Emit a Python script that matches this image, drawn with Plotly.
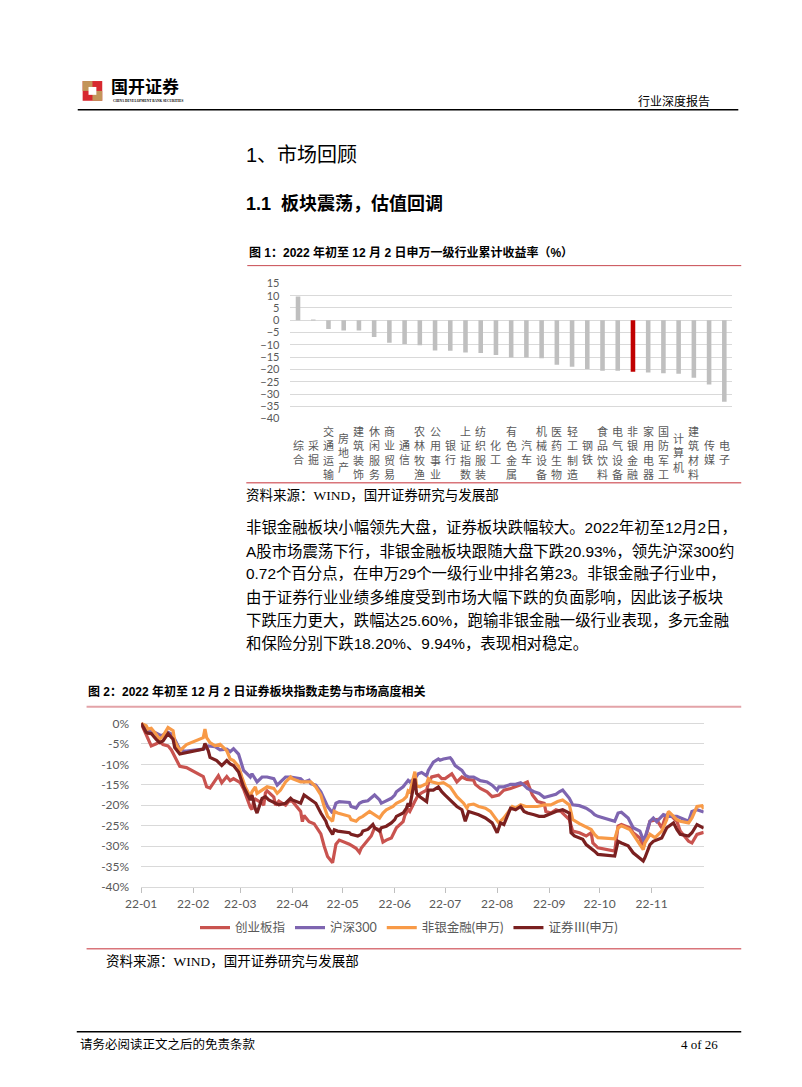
import plotly.graph_objects as go

W, H = 802, 1087
def px(x): return x / W
def py(y): return 1 - y / H

CJK = "Noto Sans CJK SC"
SANS = "Liberation Sans, Noto Sans CJK SC"
SERIF = "Liberation Serif, Noto Sans CJK SC"
NUM = "Lato, Noto Sans CJK SC"

# ---------------- Figure 1 data ----------------
industries = ["综合","采掘","交通运输","房地产","建筑装饰","休闲服务","商业贸易","通信","农林牧渔","公用事业",
              "银行","上证指数","纺织服装","化工","有色金属","汽车","机械设备","医药生物","轻工制造","钢铁",
              "食品饮料","电气设备","非银金融","家用电器","国防军工","计算机","建筑材料","传媒","电子"]
returns = [9.7, 0.2, -3.6, -4.2, -4.2, -6.8, -9.1, -9.6, -10.2, -12.3,
           -12.4, -13.1, -13.3, -14.1, -15.1, -15.1, -15.4, -18.1, -18.9, -19.8,
           -20.5, -20.5, -20.93, -21.2, -21.5, -21.8, -23.4, -26.1, -33.1]
highlight = "非银金融"
bar_yticks = list(range(-40, 20, 5))

# ---------------- Figure 2 data ----------------
cyb_dates = ["2022-01-01","2022-01-04","2022-01-07","2022-01-10","2022-01-12","2022-01-14","2022-01-17","2022-01-19","2022-01-21","2022-01-24",
             "2022-01-28","2022-02-07","2022-02-09","2022-02-11","2022-02-14","2022-02-16","2022-02-18","2022-02-21","2022-02-23","2022-02-25",
             "2022-03-01","2022-03-03","2022-03-07","2022-03-08","2022-03-09","2022-03-10","2022-03-14","2022-03-15","2022-03-16","2022-03-17",
             "2022-03-21","2022-03-22","2022-03-24","2022-03-28","2022-03-30","2022-04-01","2022-04-06","2022-04-07","2022-04-08","2022-04-11",
             "2022-04-14","2022-04-18","2022-04-20","2022-04-21","2022-04-22","2022-04-25","2022-04-26","2022-04-27","2022-04-29","2022-05-05",
             "2022-05-09","2022-05-11","2022-05-12","2022-05-16","2022-05-18","2022-05-20","2022-05-23","2022-05-25","2022-05-27","2022-05-30",
             "2022-06-02","2022-06-06","2022-06-07","2022-06-09","2022-06-10","2022-06-13","2022-06-15","2022-06-17","2022-06-20","2022-06-21",
             "2022-06-23","2022-06-27","2022-06-29","2022-07-01","2022-07-05","2022-07-08","2022-07-11","2022-07-14","2022-07-18","2022-07-19",
             "2022-07-22","2022-07-26","2022-07-29","2022-08-02","2022-08-05","2022-08-09","2022-08-12","2022-08-15","2022-08-17","2022-08-19",
             "2022-08-22","2022-08-25","2022-08-29","2022-08-30","2022-09-02","2022-09-05","2022-09-08","2022-09-09","2022-09-13","2022-09-15",
             "2022-09-19","2022-09-23","2022-09-26","2022-09-27","2022-09-30","2022-10-10","2022-10-12","2022-10-14","2022-10-19","2022-10-21",
             "2022-10-25","2022-10-27","2022-10-28","2022-10-31","2022-11-04","2022-11-07","2022-11-09","2022-11-11","2022-11-16","2022-11-18",
             "2022-11-23","2022-11-25","2022-11-28","2022-12-02"]
cyb_vals = [0,-3.0,-5.5,-5.0,-4.5,-5.2,-5.5,-6.5,-8.0,-10.5,
            -10.8,-13.0,-15.5,-15.8,-14.0,-12.8,-14.5,-13.0,-14.0,-13.5,
            -14.5,-16.0,-20.5,-21.0,-19.0,-18.5,-19.5,-20.0,-17.0,-16.5,
            -18.0,-20.0,-19.0,-20.0,-19.0,-19.0,-21.5,-24.0,-22.5,-24.0,
            -24.5,-27.0,-30.0,-31.5,-32.5,-34.0,-31.5,-29.5,-28.5,-29.5,
            -30.5,-31.5,-30.5,-28.5,-27.5,-25.5,-26.0,-29.0,-28.5,-28.0,
            -25.5,-24.0,-22.5,-21.0,-21.5,-19.0,-17.5,-17.0,-16.3,-14.7,
            -13.1,-12.7,-13.5,-13.5,-12.3,-14.3,-13.1,-13.7,-13.9,-14.9,
            -15.9,-16.7,-17.9,-17.5,-16.3,-15.9,-15.5,-14.9,-14.7,-14.3,
            -17.5,-19.1,-19.5,-21.5,-21.9,-21.1,-21.5,-21.9,-23.5,-26.3,
            -26.7,-27.5,-26.7,-29.2,-30.4,-31.2,-25.1,-24.7,-25.5,-26.7,
            -28.0,-30.4,-28.4,-23.9,-23.5,-25.5,-23.1,-21.9,-23.9,-26.3,
            -28.8,-29.2,-27.1,-26.6]

hs_dates = ["2022-01-01","2022-01-04","2022-01-05","2022-01-07","2022-01-10","2022-01-13","2022-01-17","2022-01-19","2022-01-21","2022-01-24",
            "2022-01-26","2022-01-28","2022-02-07","2022-02-10","2022-02-14","2022-02-17","2022-02-21","2022-02-23","2022-02-25","2022-02-28",
            "2022-03-03","2022-03-07","2022-03-08","2022-03-10","2022-03-11","2022-03-14","2022-03-17","2022-03-21","2022-03-23","2022-03-25",
            "2022-03-28","2022-03-31","2022-04-06","2022-04-08","2022-04-11","2022-04-12","2022-04-15","2022-04-18","2022-04-20","2022-04-22",
            "2022-04-25","2022-04-26","2022-04-27","2022-04-29","2022-05-05","2022-05-06","2022-05-09","2022-05-11","2022-05-13","2022-05-16",
            "2022-05-18","2022-05-20","2022-05-23","2022-05-24","2022-05-26","2022-05-30","2022-06-01","2022-06-02","2022-06-06","2022-06-07",
            "2022-06-09","2022-06-10","2022-06-13","2022-06-15","2022-06-17","2022-06-20","2022-06-21","2022-06-24","2022-06-27","2022-06-28",
            "2022-06-30","2022-07-04","2022-07-05","2022-07-07","2022-07-11","2022-07-13","2022-07-15","2022-07-18","2022-07-20","2022-07-22",
            "2022-07-26","2022-07-29","2022-08-01","2022-08-02","2022-08-05","2022-08-09","2022-08-12","2022-08-15","2022-08-17","2022-08-19",
            "2022-08-23","2022-08-26","2022-08-29","2022-09-01","2022-09-05","2022-09-07","2022-09-09","2022-09-13","2022-09-15","2022-09-19",
            "2022-09-21","2022-09-23","2022-09-26","2022-09-28","2022-09-30","2022-10-10","2022-10-12","2022-10-14","2022-10-18","2022-10-21",
            "2022-10-25","2022-10-27","2022-10-28","2022-10-31","2022-11-02","2022-11-04","2022-11-08","2022-11-11","2022-11-16","2022-11-18",
            "2022-11-23","2022-11-25","2022-11-28","2022-12-02"]
hs_vals = [0,-1.5,-2.0,-1.8,-2.5,-3.0,-2.2,-2.6,-3.9,-6.3,
           -6.7,-6.8,-6.3,-5.5,-5.7,-6.5,-6.3,-6.9,-6.2,-7.5,
           -11.5,-13.1,-12.3,-13.9,-14.3,-13.1,-13.1,-13.5,-15.1,-14.3,
           -13.1,-13.1,-13.5,-14.3,-13.9,-14.7,-15.1,-16.7,-18.7,-20.3,
           -21.9,-20.5,-19.5,-19.1,-19.3,-20.3,-20.7,-19.5,-19.1,-18.9,
           -18.3,-17.5,-18.7,-19.5,-19.1,-18.3,-17.5,-16.7,-15.5,-14.9,
           -13.9,-14.3,-13.5,-12.3,-12.0,-12.8,-11.5,-9.5,-8.7,-9.0,
           -8.7,-8.4,-8.9,-10.3,-11.5,-12.7,-13.1,-13.1,-13.5,-14.0,
           -14.3,-15.1,-16.3,-15.5,-15.5,-14.9,-14.9,-14.5,-15.1,-15.9,
           -16.7,-17.1,-18.1,-17.7,-17.3,-16.7,-16.3,-18.3,-19.9,-20.1,
           -20.3,-20.7,-21.5,-22.3,-22.7,-23.9,-21.9,-21.7,-23.1,-25.5,
           -26.3,-28.4,-28.0,-23.9,-23.1,-24.0,-22.3,-22.7,-22.7,-23.1,
           -23.9,-21.5,-21.1,-21.65]

fy_dates = ["2022-01-01","2022-01-04","2022-01-05","2022-01-07","2022-01-10","2022-01-12","2022-01-14","2022-01-17","2022-01-20","2022-01-21",
            "2022-01-24","2022-01-28","2022-02-07","2022-02-08","2022-02-09","2022-02-11","2022-02-14","2022-02-17","2022-02-21","2022-02-23",
            "2022-02-25","2022-02-28","2022-03-02","2022-03-04","2022-03-07","2022-03-08","2022-03-10","2022-03-11","2022-03-14","2022-03-17",
            "2022-03-21","2022-03-23","2022-03-25","2022-03-28","2022-03-31","2022-04-01","2022-04-06","2022-04-08","2022-04-12","2022-04-15",
            "2022-04-18","2022-04-20","2022-04-22","2022-04-25","2022-04-26","2022-04-28","2022-05-05","2022-05-06","2022-05-09","2022-05-11",
            "2022-05-13","2022-05-17","2022-05-20","2022-05-23","2022-05-25","2022-05-27","2022-05-31","2022-06-02","2022-06-06","2022-06-08",
            "2022-06-09","2022-06-10","2022-06-13","2022-06-14","2022-06-16","2022-06-20","2022-06-21","2022-06-23","2022-06-27","2022-06-30",
            "2022-07-04","2022-07-08","2022-07-12","2022-07-14","2022-07-15","2022-07-18","2022-07-21","2022-07-25","2022-07-28","2022-08-01",
            "2022-08-02","2022-08-05","2022-08-10","2022-08-12","2022-08-15","2022-08-18","2022-08-22","2022-08-25","2022-08-29","2022-09-02",
            "2022-09-06","2022-09-09","2022-09-13","2022-09-15","2022-09-19","2022-09-22","2022-09-26","2022-09-28","2022-09-30","2022-10-10",
            "2022-10-12","2022-10-14","2022-10-19","2022-10-21","2022-10-25","2022-10-27","2022-10-28","2022-10-31","2022-11-03","2022-11-07",
            "2022-11-10","2022-11-11","2022-11-16","2022-11-18","2022-11-23","2022-11-25","2022-11-28","2022-12-01","2022-12-02"]
fy_vals = [0,-0.6,-1.4,-1.2,-2.7,-3.9,-3.1,-1.0,-1.8,-4.3,
           -6.7,-5.2,-3.5,-1.4,-3.5,-4.7,-5.5,-5.1,-6.7,-8.7,
           -9.1,-10.5,-13.1,-15.5,-17.9,-16.7,-15.5,-17.1,-16.3,-15.5,
           -15.9,-17.1,-16.3,-14.3,-13.1,-13.5,-14.3,-14.3,-14.3,-15.5,
           -17.5,-20.3,-22.7,-23.9,-21.5,-21.9,-22.7,-23.5,-23.9,-23.1,
           -22.7,-21.5,-22.3,-23.1,-21.9,-21.1,-20.3,-19.5,-18.7,-17.9,
           -16.5,-16.8,-11.8,-15.3,-15.5,-14.7,-13.5,-14.3,-14.7,-14.5,
           -15.5,-17.9,-19.5,-20.7,-19.9,-19.7,-20.3,-20.7,-21.5,-23.9,
           -24.3,-23.1,-20.3,-20.7,-19.9,-20.3,-20.3,-20.3,-19.9,-19.9,
           -19.1,-18.7,-19.9,-23.5,-24.5,-25.1,-25.9,-27.1,-27.9,-28.2,
           -25.5,-25.0,-25.9,-27.1,-29.6,-30.8,-29.2,-27.1,-27.9,-26.3,
           -23.5,-21.5,-23.5,-23.9,-24.3,-23.1,-20.3,-20.1,-20.93]

zq_dates = ["2022-01-01","2022-01-04","2022-01-05","2022-01-07","2022-01-10","2022-01-12","2022-01-14","2022-01-17","2022-01-20","2022-01-21",
            "2022-01-24","2022-01-28","2022-02-07","2022-02-08","2022-02-10","2022-02-11","2022-02-15","2022-02-18","2022-02-21","2022-02-23",
            "2022-02-25","2022-02-28","2022-03-03","2022-03-07","2022-03-08","2022-03-10","2022-03-11","2022-03-14","2022-03-16","2022-03-18",
            "2022-03-22","2022-03-24","2022-03-28","2022-03-31","2022-04-01","2022-04-06","2022-04-08","2022-04-12","2022-04-15","2022-04-18",
            "2022-04-21","2022-04-22","2022-04-25","2022-04-26","2022-04-28","2022-05-05","2022-05-06","2022-05-10","2022-05-12","2022-05-13",
            "2022-05-16","2022-05-19","2022-05-20","2022-05-23","2022-05-24","2022-05-27","2022-05-30","2022-06-01","2022-06-02","2022-06-06",
            "2022-06-08","2022-06-09","2022-06-10","2022-06-13","2022-06-14","2022-06-16","2022-06-20","2022-06-21","2022-06-24","2022-06-27",
            "2022-06-29","2022-07-01","2022-07-05","2022-07-08","2022-07-11","2022-07-13","2022-07-15","2022-07-18","2022-07-21","2022-07-25",
            "2022-07-29","2022-08-01","2022-08-03","2022-08-05","2022-08-09","2022-08-12","2022-08-15","2022-08-17","2022-08-19","2022-08-23",
            "2022-08-26","2022-08-29","2022-09-02","2022-09-05","2022-09-09","2022-09-13","2022-09-14","2022-09-16","2022-09-21","2022-09-23",
            "2022-09-28","2022-09-30","2022-10-10","2022-10-12","2022-10-14","2022-10-18","2022-10-21","2022-10-25","2022-10-27","2022-10-28",
            "2022-10-31","2022-11-02","2022-11-07","2022-11-10","2022-11-14","2022-11-16","2022-11-18","2022-11-23","2022-11-25","2022-11-28",
            "2022-12-02"]
zq_vals = [0,-2.2,-2.4,-2.5,-3.9,-4.7,-4.3,-2.5,-3.9,-5.9,
           -7.5,-7.1,-6.3,-4.9,-6.7,-8.3,-9.1,-10.3,-9.1,-9.9,
           -10.3,-11.9,-15.5,-18.7,-17.5,-20.9,-21.9,-18.3,-17.9,-18.7,
           -19.5,-19.9,-19.5,-18.3,-18.7,-19.5,-17.5,-18.7,-19.5,-21.9,
           -23.9,-25.1,-27.1,-26.0,-26.3,-26.7,-27.1,-27.5,-27.1,-26.3,
           -25.9,-24.7,-25.5,-26.3,-25.5,-25.1,-24.3,-23.5,-22.7,-21.9,
           -20.7,-19.5,-20.3,-13.5,-17.1,-17.9,-19.1,-16.3,-16.3,-15.5,
           -16.7,-17.5,-19.1,-20.3,-21.1,-23.9,-21.5,-21.9,-22.3,-23.1,
           -24.3,-26.7,-24.3,-24.7,-20.7,-21.1,-20.3,-21.5,-21.9,-22.3,
           -22.7,-22.7,-21.9,-21.5,-21.1,-21.9,-26.7,-27.5,-28.3,-29.6,
           -31.2,-32.0,-32.4,-28.8,-29.2,-29.9,-31.6,-32.8,-33.6,-32.8,
           -29.6,-28.8,-28.0,-25.5,-24.3,-25.9,-27.1,-27.5,-26.7,-24.7,
           -25.6]

series_names = ["创业板指", "沪深300", "非银金融(申万)", "证券Ⅲ(申万)"]
series_colors = ["#c9534f", "#7e65b0", "#f89a47", "#7a2020"]
line_yticks = list(range(-40, 5, 5))
line_yticktext = [f"{v}%" for v in line_yticks]
month_ticks = ["2022-%02d-01" % m for m in range(1, 12)]
month_labels = ["22-%02d" % m for m in range(1, 12)]

fig = go.Figure()

# Figure 1 bars
bar_colors = ["#c00000" if n == highlight else "#bfbfbf" for n in industries]
fig.add_trace(go.Bar(x=industries, y=returns, marker=dict(color=bar_colors, line=dict(width=0)),
                     width=0.3, xaxis="x", yaxis="y", showlegend=False, hoverinfo="skip"))

# Figure 2 lines
for d, v, n, c in zip([cyb_dates, hs_dates, fy_dates, zq_dates],
                      [cyb_vals, hs_vals, fy_vals, zq_vals], series_names, series_colors):
    fig.add_trace(go.Scatter(x=d, y=v, mode="lines", name=n, line=dict(color=c, width=3.2),
                             xaxis="x2", yaxis="y2"))

annotations = []
shapes = []

# category labels (stacked vertical text)
for n in industries:
    annotations.append(dict(x=n, xref="x", y=py(451), yref="paper", yanchor="middle", xanchor="center",
                            text="<br>".join(list(n)), showarrow=False, align="center",
                            font=dict(family=CJK, size=11, color="#595959")))

def txt(x, y, s, size, color="#000000", family=CJK, xanchor="left", bold=False):
    if bold:
        s = f"<b>{s}</b>"
    annotations.append(dict(x=px(x), y=py(y), xref="paper", yref="paper", xanchor=xanchor, yanchor="middle",
                            text=s, showarrow=False, font=dict(family=family, size=size, color=color)))

# Header
shapes.append(dict(type="rect", xref="paper", yref="paper", x0=px(68), x1=px(88), y0=py(95), y1=py(75),
                   fillcolor="#d7282f", line=dict(width=0)))
shapes.append(dict(type="rect", xref="paper", yref="paper", x0=px(68), x1=px(78), y0=py(85), y1=py(75),
                   fillcolor="#c3955a", line=dict(width=0)))
shapes.append(dict(type="rect", xref="paper", yref="paper", x0=px(78), x1=px(88), y0=py(95), y1=py(85),
                   fillcolor="#c3955a", line=dict(width=0)))
shapes.append(dict(type="rect", xref="paper", yref="paper", x0=px(74), x1=px(82), y0=py(89), y1=py(81),
                   fillcolor="#ffffff", line=dict(width=0)))
txt(95, 80, "国开证券", 17, bold=True)
txt(97, 95, "CHINA DEVELOPMENT BANK SECURITIES", 3.4, family=SERIF, bold=True)
txt(710, 95, "行业深度报告", 12, xanchor="right")
shapes.append(dict(type="line", xref="paper", yref="paper", x0=px(63), x1=px(737), y0=py(104), y1=py(104),
                   line=dict(color="#000000", width=1.5)))

# Headings
txt(233, 150, "1、市场回顾", 20, family=SANS)
txt(233, 200, "1.1  板块震荡，估值回调", 18, family=SANS, bold=True)

# Figure 1 caption
txt(236, 249, "图 1：2022 年初至 12 月 2 日申万一级行业累计收益率（%）", 12, family=SANS, bold=True)
shapes.append(dict(type="line", xref="paper", yref="paper", x0=px(236), x1=px(740), y0=py(262), y1=py(262),
                   line=dict(color="#c7484f", width=1)))
shapes.append(dict(type="line", xref="paper", yref="paper", x0=px(235), x1=px(740), y0=py(482), y1=py(482),
                   line=dict(color="#d9757a", width=1.5)))
txt(233, 495, "资料来源：WIND，国开证券研究与发展部", 13.5, family=SERIF)

# Paragraph
para = ["非银金融板块小幅领先大盘，证券板块跌幅较大。2022年初至12月2日，",
        "A股市场震荡下行，非银金融板块跟随大盘下跌20.93%，领先沪深300约",
        "0.72个百分点，在申万29个一级行业中排名第23。非银金融子行业中，",
        "由于证券行业业绩多维度受到市场大幅下跌的负面影响，因此该子板块",
        "下跌压力更大，跌幅达25.60%，跑输非银金融一级行业表现，多元金融",
        "和保险分别下跌18.20%、9.94%，表现相对稳定。"]
for i, line in enumerate(para):
    txt(233, 527 + i * 23.6, line, 15.4, family=SANS)

# Figure 2 caption
txt(71, 693, "图 2：2022 年初至 12 月 2 日证券板块指数走势与市场高度相关", 12, family=SANS, bold=True)
shapes.append(dict(type="line", xref="paper", yref="paper", x0=px(72), x1=px(740), y0=py(709), y1=py(709),
                   line=dict(color="#e3a3a8", width=2)))
shapes.append(dict(type="line", xref="paper", yref="paper", x0=px(72), x1=px(740), y0=py(954), y1=py(954),
                   line=dict(color="#d9757a", width=1.5)))
txt(90, 967, "资料来源：WIND，国开证券研究与发展部", 13.5, family=SERIF)

# Footer
shapes.append(dict(type="line", xref="paper", yref="paper", x0=px(62), x1=px(740), y0=py(1038), y1=py(1038),
                   line=dict(color="#000000", width=1.5)))
txt(63, 1051, "请务必阅读正文之后的免责条款", 12.5, family=SERIF)
txt(718, 1051, "4 of 26", 13, family=SERIF, xanchor="right")

fig.update_layout(
    width=W, height=H, margin=dict(l=0, r=0, t=0, b=0),
    paper_bgcolor="#ffffff", plot_bgcolor="#ffffff",
    annotations=annotations, shapes=shapes,
    bargap=0.7,
    xaxis=dict(domain=[px(280), px(730.5)], range=[-0.5, len(industries) - 0.5], type="category",
               showticklabels=False, showgrid=False, zeroline=False, showline=False, ticks="",
               anchor="y", fixedrange=True),
    yaxis=dict(domain=[py(417), py(280)], range=[-40, 15], tickvals=bar_yticks,
               showgrid=True, gridcolor="#d9d9d9", gridwidth=1, zeroline=False, showline=False,
               ticks="", ticklabelstandoff=10,
               tickfont=dict(family=NUM, size=11, color="#595959"), anchor="x"),
    xaxis2=dict(domain=[px(127.7), px(701.7)], type="date", range=["2022-01-01", "2022-12-02"],
                tickvals=month_ticks, ticktext=month_labels,
                showgrid=False, zeroline=False, showline=True, linecolor="#d9d9d9", linewidth=1,
                ticks="outside", ticklen=5, tickcolor="#bfbfbf", tickwidth=1,
                tickfont=dict(family=NUM, size=12, color="#595959"), anchor="y2"),
    yaxis2=dict(domain=[py(891.7), py(723.6)], range=[-40, 0.5], tickvals=line_yticks, ticktext=line_yticktext,
                showgrid=True, gridcolor="#d9d9d9", gridwidth=1, zeroline=False, showline=False,
                ticks="", ticklabelstandoff=11,
                tickfont=dict(family=NUM, size=12, color="#595959"), anchor="x2"),
    showlegend=True,
    legend=dict(orientation="h", x=0.5, xanchor="center", y=py(933), yanchor="middle",
                font=dict(family=NUM, size=12.5, color="#595959"), bgcolor="rgba(0,0,0,0)",
                itemwidth=30, tracegroupgap=0),
)

fig.write_html("out.html")
